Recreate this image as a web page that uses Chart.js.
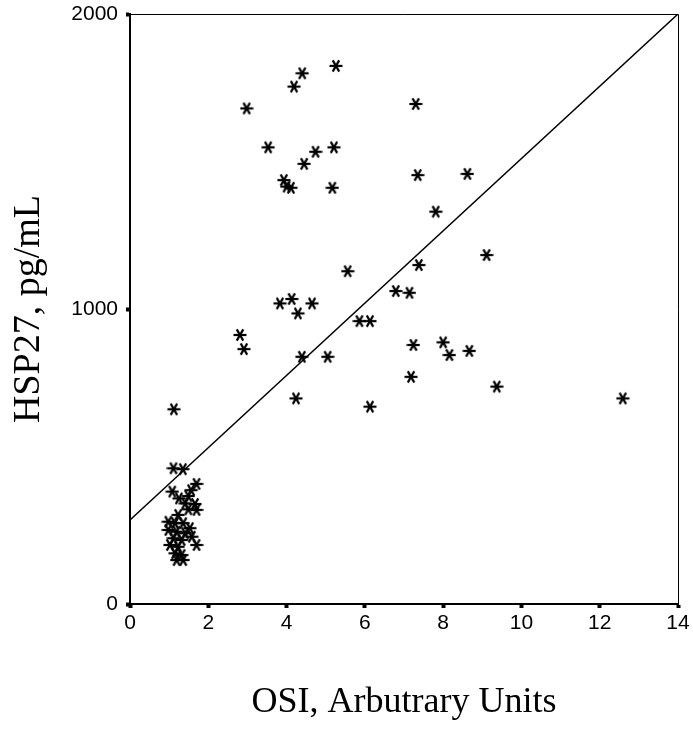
<!DOCTYPE html>
<html>
<head>
<meta charset="utf-8">
<script src="https://cdn.jsdelivr.net/npm/chart.js@4"></script>
<style>
  html, body { margin: 0; padding: 0; background: #fff; }
  #chart { display: block; }
</style>
</head>
<body>
<canvas id="chart" width="693" height="729"></canvas>
<script>
// OSI (x) and HSP27 (y) values
const osi = [
    2.98, 4.19, 4.40, 5.26, 7.30, 3.53, 4.74, 5.21, 4.45, 3.93, 4.00, 4.11, 5.17, 7.35, 8.62, 7.81,
    9.11, 7.38, 5.56, 6.79, 7.14, 3.83, 4.13, 4.65, 4.29, 5.86, 6.13, 2.81, 2.91, 7.24, 8.00, 8.16,
    8.67, 4.39, 5.05, 7.18, 9.37, 4.24, 6.13, 12.59,
    1.12, 1.11, 1.35, 1.08, 1.70, 1.56, 1.49, 1.25, 1.41, 1.66, 1.70, 1.49, 1.23, 0.98, 1.15, 1.36,
    1.53, 0.98, 1.19, 1.41, 1.11, 1.32, 1.58, 1.02, 1.23, 1.70, 1.15, 1.32, 1.19, 1.36
];
const hsp27 = [
    1680, 1754, 1799, 1824, 1695, 1548, 1533, 1548, 1492, 1437, 1415, 1411, 1411, 1454, 1458, 1330,
    1183, 1149, 1128, 1061, 1055, 1019, 1034, 1019, 985, 959, 959, 912, 864, 878, 887, 844,
    858, 838, 838, 770, 737, 697, 669, 697,
    660, 460, 457, 381, 407, 386, 366, 358, 341, 339, 319, 321, 302, 279, 274, 274,
    257, 251, 245, 240, 223, 217, 228, 200, 194, 200, 172, 166, 149, 149
];
// fit line end points
const fitX = [0, 14];
const fitY = [285, 2000];

const xTicks = [0, 2, 4, 6, 8, 10, 12, 14];
const yTicks = [0, 1000, 2000];

// six-armed asterisk marker
function makeAsterisk(size) {
    const c = document.createElement("canvas");
    c.width = size;
    c.height = size;
    const g = c.getContext("2d");
    const r = size / 2 - 0.5;
    g.translate(size / 2, size / 2);
    g.strokeStyle = "#000";
    g.lineWidth = 2.2;
    [0, 60, 120].forEach(function (deg) {
        const a = deg * Math.PI / 180;
        g.beginPath();
        g.moveTo(-r * Math.cos(a), -r * Math.sin(a));
        g.lineTo(r * Math.cos(a), r * Math.sin(a));
        g.stroke();
    });
    return c;
}
const star = makeAsterisk(14);

// thin top / right frame
const frame = {
    id: "frame",
    afterDraw(chart) {
        const { ctx, chartArea: a } = chart;
        ctx.save();
        ctx.strokeStyle = "#000";
        ctx.lineWidth = 1;
        ctx.beginPath();
        ctx.moveTo(a.left, a.top + 0.5);
        ctx.lineTo(a.right + 0.5, a.top + 0.5);
        ctx.lineTo(a.right + 0.5, a.bottom);
        ctx.stroke();
        ctx.restore();
    }
};

const tickFont = { family: "'Liberation Sans', Arial, sans-serif", size: 21 };
const serif = "'Liberation Serif', 'Times New Roman', serif";

new Chart(document.getElementById("chart"), {
    type: "scatter",
    data: {
        datasets: [
            {
                label: "HSP27",
                data: osi.map((x, i) => ({ x: x, y: hsp27[i] })),
                pointStyle: star,
                pointRadius: 7,
                pointHoverRadius: 7
            },
            {
                label: "Fit",
                data: fitX.map((x, i) => ({ x: x, y: fitY[i] })),
                showLine: true,
                borderColor: "#000",
                borderWidth: 1.5,
                pointRadius: 0
            }
        ]
    },
    options: {
        responsive: false,
        animation: false,
        layout: { padding: { top: 14, right: 15, left: 0, bottom: 0 } },
        plugins: { legend: { display: false }, tooltip: { enabled: false } },
        scales: {
            x: {
                type: "linear",
                min: 0,
                max: 14,
                afterFit: (s) => { s.height = 125; },
                afterBuildTicks: (s) => { s.ticks = xTicks.map((v) => ({ value: v })); },
                ticks: { color: "#000", font: tickFont, padding: 3, maxRotation: 0, callback: (v) => String(v) },
                grid: { drawOnChartArea: false, tickLength: 4, tickWidth: 4, color: "#000" },
                border: { display: true, color: "#000", width: 2 },
                title: { display: true, text: "OSI, Arbutrary Units", color: "#000", font: { family: serif, size: 36 }, padding: { top: 0, bottom: 5 } }
            },
            y: {
                type: "linear",
                min: 0,
                max: 2000,
                afterFit: (s) => { s.width = 130; s.paddingTop = 0; s.paddingBottom = 0; },
                afterBuildTicks: (s) => { s.ticks = yTicks.map((v) => ({ value: v })); },
                ticks: { color: "#000", font: tickFont, padding: 8, callback: (v) => String(v) },
                grid: { drawOnChartArea: false, tickLength: 4, tickWidth: 4, color: "#000" },
                border: { display: true, color: "#000", width: 2 },
                title: { display: true, text: "HSP27, pg/mL", color: "#000", font: { family: serif, size: 38 }, padding: { top: 6, bottom: 0 } }
            }
        }
    },
    plugins: [frame]
});
</script>
</body>
</html>
